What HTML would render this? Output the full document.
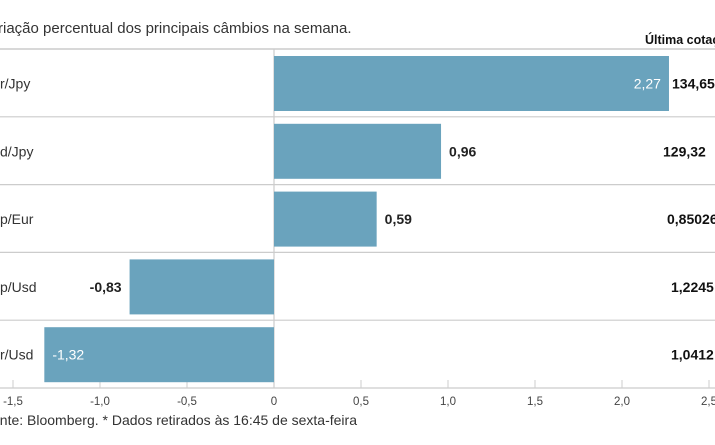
<!DOCTYPE html>
<html><head><meta charset="utf-8"><style>
body{margin:0;width:715px;height:445px;overflow:hidden;background:#fff;font-family:"Liberation Sans",sans-serif;}
svg{display:block}
</style></head><body>
<svg id="c" width="715" height="445" xmlns="http://www.w3.org/2000/svg">
<text x="-2" y="33" font-size="15" fill="#333">riação percentual dos principais câmbios na semana.</text>
<text x="645" y="44" font-size="12.5" font-weight="bold" fill="#111">Última cotação</text>
<text x="-8" y="425" font-size="14" fill="#333">onte: Bloomberg.  * Dados retirados às 16:45 de sexta-feira</text>
</svg>
<script>
const categories=["r/Jpy","d/Jpy","p/Eur","p/Usd","r/Usd"];
const values=[2.27,0.96,0.59,-0.83,-1.32];
const valueLabels=["2,27","0,96","0,59","-0,83","-1,32"];
const quotes=["134,65","129,32","0,85026","1,2245","1,0412"];
const ticks=[-1.5,-1.0,-0.5,0,0.5,1.0,1.5,2.0,2.5];
const tickLabels=["-1,5","-1,0","-0,5","0","0,5","1,0","1,5","2,0","2,5"];
const svg=document.getElementById('c');
const NS="http://www.w3.org/2000/svg";
const x=v=>274+v*174;
const top0=49,pitch=67.8;
function mk(t,a){const e=document.createElementNS(NS,t);for(const k in a)e.setAttribute(k,a[k]);svg.appendChild(e);return e;}
// grid
let l=mk('line',{x1:0,x2:715,y1:top0,y2:top0,stroke:'#ccc','stroke-width':1.5});


for(let i=1;i<categories.length;i++){const y=top0+i*pitch;
 const s=mk('line',{x1:0,x2:715,y1:y,y2:y,stroke:'#ccc','stroke-width':1.2});
 
 }
const axY=top0+categories.length*pitch;
l=mk('line',{x1:x(0),x2:x(0),y1:top0,y2:axY,stroke:'#ccc','stroke-width':1.2});


l=mk('line',{x1:0,x2:715,y1:axY,y2:axY,stroke:'#ccc','stroke-width':1.2});


ticks.forEach((t,i)=>{
 const tk=mk('line',{x1:x(t),x2:x(t),y1:axY-8,y2:axY,stroke:'#ccc','stroke-width':1});
 
 
 const tl=mk('text',{x:x(t),y:axY+17,'font-size':11.5,fill:'#444','text-anchor':'middle'});
 tl.textContent=tickLabels[i];
 
 
});
categories.forEach((c,i)=>{
 const yt=top0+i*pitch+7,h=55,cy=yt+h/2+5;
 const lab=mk('text',{x:0,y:cy,'font-size':14,fill:'#333'});
 lab.textContent=c;
 
 
 const v=values[i];
 const b=mk('rect',{x:Math.min(x(0),x(v)),y:yt,width:Math.abs(x(v)-x(0)),height:h,fill:'#6aa3bd'});
 
 
 const inside=Math.abs(v)>1.2;
 let tx,anchor;
 if(v>=0){ if(inside){tx=x(v)-8;anchor='end';}else{tx=x(v)+8;anchor='start';} }
 else { if(inside){tx=x(v)+8;anchor='start';}else{tx=x(v)-8;anchor='end';} }
 const vl=mk('text',{x:tx,y:cy,'font-size':14,'font-weight':inside?'normal':'bold',fill:inside?'#fff':'#222','text-anchor':anchor});
 vl.textContent=valueLabels[i];
 
 
 const q=mk('text',{x:715,y:cy,'font-size':14,'font-weight':'bold',fill:'#111','text-anchor':'end',textLength:0});
 q.removeAttribute('textLength');
 q.setAttribute('x', i==0?672:(715-( {1:52,2:48,3:44,4:44}[i]))+ (i==0?0:0));
 q.setAttribute('text-anchor','start');
 q.textContent=quotes[i];
 
 
});
</script>
</body></html>
